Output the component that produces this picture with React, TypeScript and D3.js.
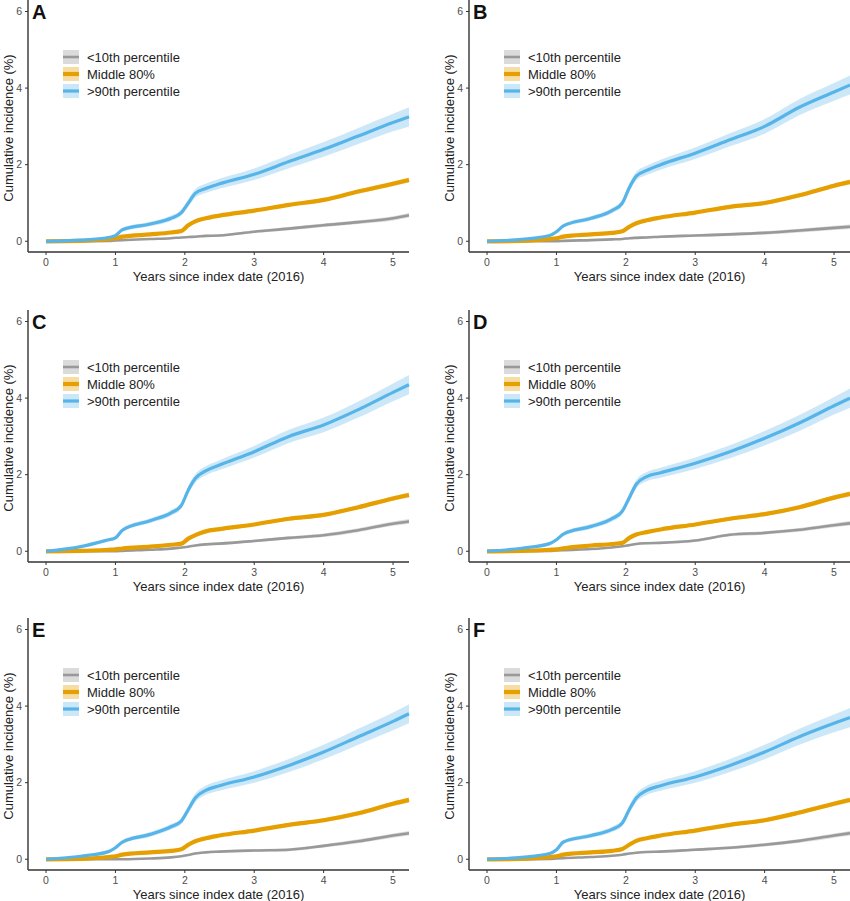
import React from 'react';
import * as d3 from 'd3';

// time grid (years) shared by every series
const times = [0, 0.5, 0.9, 1.0, 1.1, 1.5, 1.8, 1.95, 2.05, 2.15, 2.3, 2.5, 3.0, 3.5, 4.0, 4.5, 5.0, 5.23];

const panelLabels = ['A', 'B', 'C', 'D', 'E', 'F'];
const seriesNames = ['<10th percentile', 'Middle 80%', '>90th percentile'];

// cumulative incidence (%) per panel
const lowA = [0, 0, 0.01, 0.02, 0.03, 0.06, 0.08, 0.1, 0.11, 0.12, 0.14, 0.15, 0.25, 0.33, 0.42, 0.5, 0.6, 0.68];
const midA = [0, 0.01, 0.06, 0.08, 0.12, 0.18, 0.23, 0.27, 0.42, 0.52, 0.6, 0.67, 0.8, 0.95, 1.08, 1.3, 1.5, 1.6];
const highA = [0, 0.03, 0.1, 0.15, 0.3, 0.45, 0.6, 0.75, 1.0, 1.25, 1.38, 1.5, 1.75, 2.08, 2.4, 2.75, 3.1, 3.25];

const lowB = [0, 0, 0, 0, 0.01, 0.03, 0.05, 0.06, 0.08, 0.09, 0.1, 0.12, 0.15, 0.18, 0.22, 0.28, 0.35, 0.38];
const midB = [0, 0.01, 0.06, 0.08, 0.12, 0.18, 0.22, 0.26, 0.38, 0.47, 0.55, 0.62, 0.75, 0.9, 1.0, 1.2, 1.45, 1.55];
const highB = [0, 0.05, 0.15, 0.25, 0.4, 0.6, 0.8, 1.0, 1.4, 1.7, 1.85, 2.0, 2.3, 2.65, 3.0, 3.5, 3.9, 4.08];

const lowC = [0, 0, 0, 0, 0.01, 0.04, 0.07, 0.1, 0.12, 0.15, 0.18, 0.2, 0.27, 0.35, 0.42, 0.55, 0.72, 0.78];
const midC = [0, 0.01, 0.04, 0.05, 0.07, 0.12, 0.17, 0.2, 0.33, 0.42, 0.52, 0.58, 0.7, 0.85, 0.95, 1.15, 1.38, 1.47];
const highC = [0, 0.12, 0.3, 0.35, 0.55, 0.8, 1.0, 1.2, 1.6, 1.9, 2.1, 2.25, 2.6, 3.0, 3.3, 3.7, 4.15, 4.35];

const lowD = [0, 0, 0.01, 0.02, 0.03, 0.06, 0.1, 0.13, 0.16, 0.19, 0.21, 0.22, 0.28, 0.43, 0.48, 0.56, 0.68, 0.73];
const midD = [0, 0.01, 0.04, 0.05, 0.08, 0.15, 0.19, 0.22, 0.35, 0.44, 0.5, 0.57, 0.7, 0.85, 0.97, 1.15, 1.4, 1.5];
const highD = [0, 0.08, 0.2, 0.3, 0.45, 0.65, 0.85, 1.05, 1.4, 1.75, 1.95, 2.05, 2.3, 2.6, 2.95, 3.35, 3.8, 4.0];

const lowE = [0, 0, 0, 0, 0, 0.02, 0.05, 0.08, 0.11, 0.15, 0.18, 0.2, 0.23, 0.25, 0.35, 0.47, 0.62, 0.68];
const midE = [0, 0.01, 0.06, 0.08, 0.12, 0.18, 0.22, 0.26, 0.38, 0.47, 0.55, 0.62, 0.75, 0.9, 1.02, 1.2, 1.45, 1.55];
const highE = [0, 0.08, 0.2, 0.3, 0.45, 0.65, 0.85, 1.0, 1.3, 1.6, 1.8, 1.92, 2.15, 2.45, 2.8, 3.2, 3.6, 3.8];

const lowF = [0, 0, 0.01, 0.02, 0.03, 0.06, 0.09, 0.12, 0.15, 0.17, 0.19, 0.2, 0.25, 0.3, 0.38, 0.48, 0.62, 0.68];
const midF = [0, 0.01, 0.06, 0.08, 0.12, 0.18, 0.22, 0.27, 0.38, 0.48, 0.55, 0.62, 0.75, 0.9, 1.02, 1.22, 1.45, 1.55];
const highF = [0, 0.05, 0.15, 0.25, 0.45, 0.62, 0.78, 0.95, 1.3, 1.6, 1.8, 1.92, 2.15, 2.45, 2.8, 3.2, 3.55, 3.7];

// half width of the 95% band, same grid
const ciLow = [0, 0.005, 0.01, 0.01, 0.012, 0.015, 0.018, 0.02, 0.022, 0.025, 0.028, 0.03, 0.035, 0.04, 0.045, 0.05, 0.055, 0.06];
const ciMid = [0, 0.005, 0.01, 0.012, 0.015, 0.018, 0.02, 0.022, 0.026, 0.03, 0.032, 0.035, 0.04, 0.045, 0.05, 0.055, 0.06, 0.065];
const ciHigh = [0, 0.02, 0.03, 0.04, 0.05, 0.06, 0.07, 0.08, 0.1, 0.11, 0.12, 0.13, 0.15, 0.17, 0.19, 0.21, 0.23, 0.25];

const panelData = [
  [lowA, midA, highA],
  [lowB, midB, highB],
  [lowC, midC, highC],
  [lowD, midD, highD],
  [lowE, midE, highE],
  [lowF, midF, highF],
];
const ciData = [ciLow, ciMid, ciHigh];

const xTicks = [0, 1, 2, 3, 4, 5];
const yTicks = [0, 2, 4, 6];

const colors = ['#999999', '#E69F00', '#56B4E9'];
const lineWidths = [2.6, 4.2, 3.2];
const ribbonOpacity = [0.35, 0.35, 0.3];

const W = 850;
const H = 901;
const colLeft = [28, 469];
const rowTop = [0, 310, 618];
const plotW = 381;
const plotH = 252;
const font = '"Liberation Sans", Arial, Helvetica, sans-serif';

const x = d3.scaleLinear().domain([-0.26, 5.23]).range([0, plotW]);
const y = d3.scaleLinear().domain([-0.28, 6.3]).range([plotH, 0]);

const Panel: React.FC<{ idx: number }> = ({ idx }) => {
  const left = colLeft[idx % 2];
  const top = rowTop[Math.floor(idx / 2)];
  const series = panelData[idx];
  const clipId = `clip-${idx}`;

  const line = d3.line<number>()
    .x((_, i) => x(times[i]))
    .y(d => y(d))
    .curve(d3.curveMonotoneX);

  return (
    <g transform={`translate(${left},${top})`}>
      <defs>
        <clipPath id={clipId}>
          <rect x={0} y={0} width={plotW + 2} height={plotH} />
        </clipPath>
      </defs>

      <g clipPath={`url(#${clipId})`}>
        {series.map((vals, s) => {
          const ci = ciData[s];
          const area = d3.area<number>()
            .x((_, i) => x(times[i]))
            .y0((d, i) => y(Math.max(0, d - ci[i])))
            .y1((d, i) => y(d + ci[i]))
            .curve(d3.curveMonotoneX);
          return (
            <path key={`r${s}`} d={area(vals) || ''} fill={colors[s]} opacity={ribbonOpacity[s]} />
          );
        })}
        {series.map((vals, s) => (
          <path
            key={`l${s}`}
            d={line(vals) || ''}
            fill="none"
            stroke={colors[s]}
            strokeWidth={lineWidths[s]}
            strokeLinejoin="round"
          />
        ))}
      </g>

      {/* axes */}
      <line x1={0} x2={0} y1={0} y2={plotH} stroke="#333" strokeWidth={1.4} />
      <line x1={0} x2={plotW} y1={plotH} y2={plotH} stroke="#333" strokeWidth={1.4} />
      {yTicks.map(t => (
        <g key={`yt${t}`}>
          <line x1={-3} x2={0} y1={y(t)} y2={y(t)} stroke="#333" strokeWidth={1} />
          <text x={-6} y={y(t)} dy="0.35em" textAnchor="end" fontSize={10.5} fill="#4d4d4d" fontFamily={font}>
            {t}
          </text>
        </g>
      ))}
      {xTicks.map(t => (
        <g key={`xt${t}`}>
          <line x1={x(t)} x2={x(t)} y1={plotH} y2={plotH + 3} stroke="#333" strokeWidth={1} />
          <text x={x(t)} y={plotH + 14} textAnchor="middle" fontSize={10.5} fill="#4d4d4d" fontFamily={font}>
            {t}
          </text>
        </g>
      ))}

      <text x={plotW / 2} y={plotH + 29} textAnchor="middle" fontSize={13} fill="#222" fontFamily={font}>
        Years since index date (2016)
      </text>
      <text
        transform={`translate(-15,${plotH / 2 + 2}) rotate(-90)`}
        textAnchor="middle"
        fontSize={13}
        fill="#222"
        fontFamily={font}
      >
        Cumulative incidence (%)
      </text>

      <text x={4} y={19} fontSize={20} fontWeight="bold" fill="#111" fontFamily={font}>
        {panelLabels[idx]}
      </text>

      {/* legend */}
      {seriesNames.map((name, s) => {
        const ly = 57 + s * 17;
        return (
          <g key={`lg${s}`}>
            <rect x={35} y={ly - 7} width={16} height={14} fill={colors[s]} opacity={ribbonOpacity[s]} />
            <line x1={35} x2={51} y1={ly} y2={ly} stroke={colors[s]} strokeWidth={lineWidths[s]} />
            <text x={59} y={ly} dy="0.35em" fontSize={13} fill="#222" fontFamily={font}>
              {name}
            </text>
          </g>
        );
      })}
    </g>
  );
};

const App: React.FC = () => (
  <svg
    width={W}
    height={H}
    viewBox={`0 0 ${W} ${H}`}
    style={{ position: 'absolute', left: 0, top: 0, background: '#fff' }}
  >
    <rect width={W} height={H} fill="#fff" />
    {panelLabels.map((_, i) => (
      <Panel key={i} idx={i} />
    ))}
  </svg>
);

export default App;
